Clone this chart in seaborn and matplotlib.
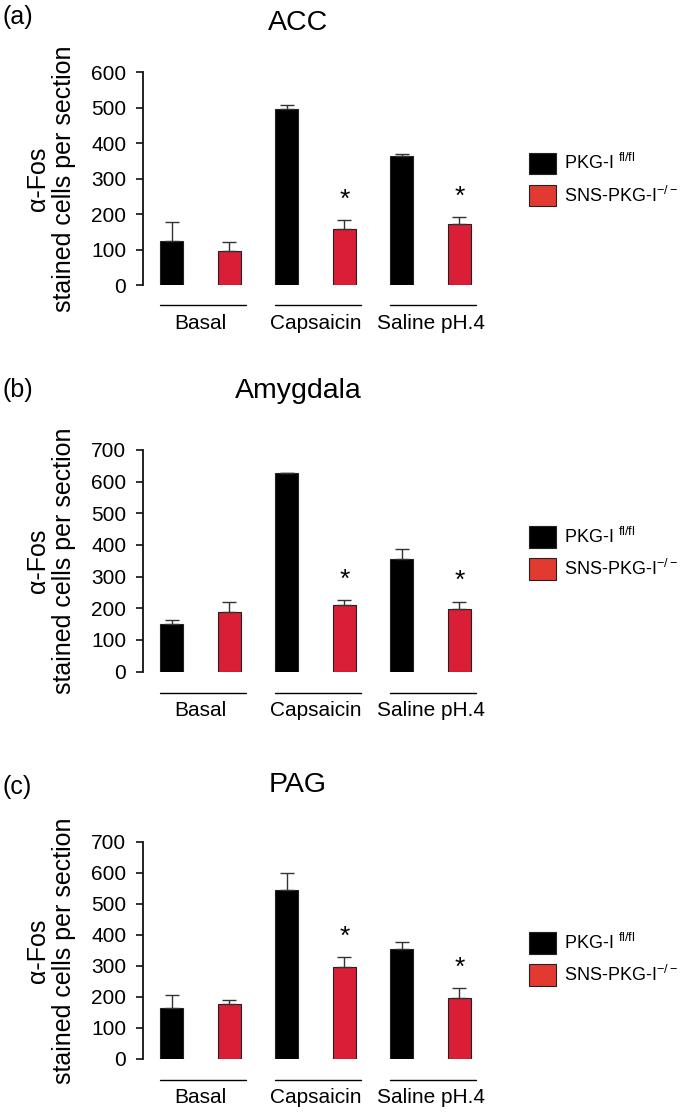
import pandas as pd
import seaborn as sns
import matplotlib.pyplot as plt
from matplotlib.patches import Patch

# data (mean and top of SEM bar)
conditions = ['Basal', 'Capsaicin', 'Saline pH.4']
genotypes = ['PKG-I fl/fl', 'SNS-PKG-I-/-']
regions = ['ACC', 'Amygdala', 'PAG']
panel_tags = ['(a)', '(b)', '(c)']

acc_ctrl = [124, 495, 363]
acc_ctrl_top = [178, 507, 370]
acc_ko = [97, 158, 173]
acc_ko_top = [120, 183, 192]

amy_ctrl = [151, 626, 356]
amy_ctrl_top = [163, 628, 387]
amy_ko = [187, 211, 199]
amy_ko_top = [221, 226, 221]

pag_ctrl = [163, 545, 355]
pag_ctrl_top = [206, 598, 376]
pag_ko = [177, 297, 195]
pag_ko_top = [191, 329, 228]

ko_stars = [False, True, True]
y_max = [600, 700, 700]

black = '#000000'
red = '#da1e35'
legend_red = '#e23a30'


def create_plots():
    sns.set_style('white')
    plt.rcParams['font.family'] = ['Liberation Sans', 'DejaVu Sans']
    plt.rcParams['mathtext.default'] = 'regular'
    for key in ['text.color', 'axes.labelcolor', 'xtick.color', 'ytick.color']:
        plt.rcParams[key] = 'black'

    fig = plt.figure(figsize=(6.8, 11.12), dpi=100)

    panels = [
        (acc_ctrl, acc_ctrl_top, acc_ko, acc_ko_top),
        (amy_ctrl, amy_ctrl_top, amy_ko, amy_ko_top),
        (pag_ctrl, pag_ctrl_top, pag_ko, pag_ko_top),
    ]
    # axes boxes in figure fractions [left, bottom, width, height]
    boxes = [
        [0.2103, 0.7437, 0.5074, 0.1915],
        [0.2103, 0.3960, 0.5074, 0.1994],
        [0.2103, 0.0477, 0.5074, 0.1954],
    ]
    title_y = [0.979, 0.6484, 0.2941]
    tag_y = [0.985, 0.6493, 0.2923]
    legend_y = [0.8386, 0.5027, 0.1376]

    for i, (ctrl, ctrl_top, ko, ko_top) in enumerate(panels):
        ax = fig.add_axes(boxes[i])
        df = pd.DataFrame({
            'condition': conditions * 2,
            'genotype': [genotypes[0]] * 3 + [genotypes[1]] * 3,
            'value': ctrl + ko,
        })
        sns.barplot(data=df, x='condition', y='value', hue='genotype',
                    order=conditions, hue_order=genotypes,
                    palette=[black, red], saturation=1, width=1.0, gap=0.6,
                    errorbar=None, legend=False, edgecolor='#222222',
                    linewidth=0.8, ax=ax)

        # error bars (upper half only) placed on the seaborn bars
        bars = sorted(ax.patches, key=lambda p: p.get_x())
        tops = [t for pair in zip(ctrl_top, ko_top) for t in pair]
        for k, p in enumerate(bars):
            xc = p.get_x() + p.get_width() / 2
            h = p.get_height()
            ax.errorbar([xc], [h], yerr=[[0], [tops[k] - h]], fmt='none',
                        ecolor='#333333', elinewidth=1.0, capsize=5,
                        capthick=1.0, zorder=1)
            if k % 2 == 1 and ko_stars[k // 2]:
                ax.annotate('*', xy=(xc, tops[k]), xytext=(0, 6),
                            textcoords='offset points', ha='center',
                            va='bottom', fontsize=19)

        # group underlines below the axis
        trans = ax.get_xaxis_transform()
        for g in range(len(conditions)):
            ax.plot([g - 0.355, g + 0.395], [-0.095, -0.095], color='black',
                    lw=1.0, transform=trans, clip_on=False)

        ax.set_xlim(-0.5, 2.5)
        ax.set_ylim(0, y_max[i])
        ax.set_yticks(range(0, y_max[i] + 1, 100))
        ax.set_xticks(range(len(conditions)))
        ax.set_xticklabels(conditions, fontsize=15)
        ax.tick_params(axis='x', length=0, pad=21)
        ax.tick_params(axis='y', left=True, length=5, width=1.2,
                       direction='out', labelsize=15, pad=7, color='#111111')
        ax.set_xlabel('')
        ax.set_ylabel('\u03b1-Fos\nstained cells per section', fontsize=18,
                      linespacing=1.12, labelpad=11)
        sns.despine(ax=ax, bottom=True)
        ax.spines['left'].set_linewidth(1.3)
        ax.spines['left'].set_color('#111111')

        fig.text(0.438, title_y[i], regions[i], fontsize=20.5, ha='center',
                 va='center')
        fig.text(0.004, tag_y[i], panel_tags[i], fontsize=18, ha='left',
                 va='center')

        handles = [Patch(facecolor=black, edgecolor='#222222', lw=0.8),
                   Patch(facecolor=legend_red, edgecolor='#222222', lw=0.8)]
        labels = ['PKG-I $^{fl/fl}$', 'SNS-PKG-I$^{-/-}$']
        fig.legend(handles, labels, loc='center left',
                   bbox_to_anchor=(0.778, legend_y[i]), frameon=False,
                   fontsize=13, handlelength=1.5, handleheight=1.45,
                   handletextpad=0.45, labelspacing=0.6, borderpad=0,
                   borderaxespad=0)

    fig.savefig('out.png', dpi=100)


if __name__ == "__main__":
    create_plots()
